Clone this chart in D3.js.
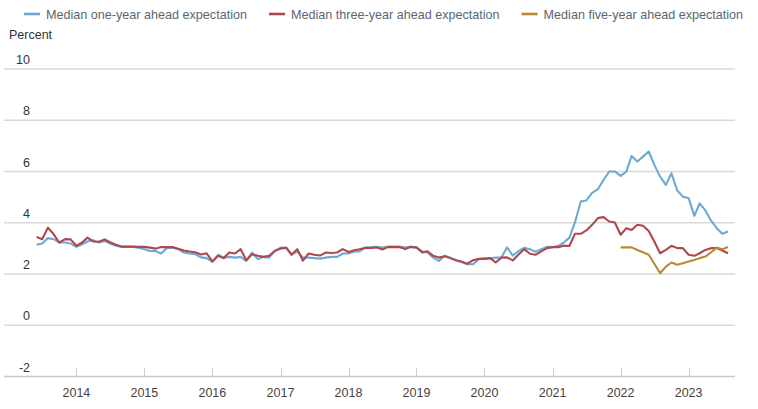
<!DOCTYPE html>
<html>
<head>
<meta charset="utf-8">
<script src="https://cdn.jsdelivr.net/npm/d3@7"></script>
<style>
  html, body { margin: 0; padding: 0; background: #fff; }
  svg { display: block; font-family: "Liberation Sans", Arial, Helvetica, sans-serif; }
</style>
</head>
<body>
<svg id="chart" width="758" height="409"></svg>
<script>
// ---- Data ----
const seriesNames = ["Median one-year ahead expectation", "Median three-year ahead expectation", "Median five-year ahead expectation"];
const seriesColors = ["#6aaad6", "#b0484b", "#b88a33"];
const startOneThree = "2013-06";   // first month of the one- and three-year series
const startFive = "2022-01";       // first month of the five-year series
const yTicks = [-2, 0, 2, 4, 6, 8, 10];
const xTickYears = [2014, 2015, 2016, 2017, 2018, 2019, 2020, 2021, 2022, 2023];

const oneYear = [
  3.12, 3.17, 3.38, 3.34, 3.21, 3.21, 3.17,
  3.04, 3.14, 3.25, 3.30, 3.21, 3.27, 3.17, 3.08, 3.04, 3.04, 3.04, 3.01,
  2.95, 2.88, 2.88, 2.78, 2.99, 3.01, 2.95, 2.82, 2.78, 2.75, 2.63, 2.60,
  2.45, 2.73, 2.62, 2.65, 2.62, 2.65, 2.49, 2.82, 2.56, 2.65, 2.62, 2.88,
  3.01, 2.99, 2.75, 2.86, 2.62, 2.62, 2.60, 2.58, 2.62, 2.65, 2.65, 2.78,
  2.78, 2.86, 2.86, 3.01, 3.01, 3.04, 3.01, 3.05, 3.05, 3.05, 3.01, 3.05,
  3.01, 2.86, 2.82, 2.62, 2.49, 2.69, 2.62, 2.52, 2.45, 2.36, 2.36, 2.56,
  2.59, 2.59, 2.62, 2.62, 3.02, 2.70, 2.87, 3.00, 2.95, 2.85, 2.95, 3.04,
  3.03, 3.08, 3.20, 3.40, 4.00, 4.81, 4.85, 5.15, 5.29, 5.65, 5.98, 5.98,
  5.81, 5.98, 6.59, 6.37, 6.56, 6.76, 6.24, 5.78, 5.46, 5.91, 5.24, 5.00,
  4.94, 4.25, 4.74, 4.46, 4.07, 3.77, 3.55, 3.64
];
const threeYear = [
  3.43, 3.34, 3.79, 3.53, 3.21, 3.34, 3.33,
  3.08, 3.21, 3.40, 3.25, 3.24, 3.33, 3.22, 3.12, 3.05, 3.05, 3.05, 3.04,
  3.04, 3.01, 2.97, 3.03, 3.03, 3.03, 2.97, 2.90, 2.86, 2.83, 2.74, 2.79,
  2.47, 2.69, 2.60, 2.82, 2.78, 2.95, 2.52, 2.75, 2.69, 2.65, 2.69, 2.88,
  2.97, 3.01, 2.73, 2.95, 2.50, 2.78, 2.73, 2.70, 2.82, 2.80, 2.82, 2.95,
  2.84, 2.91, 2.95, 3.00, 3.00, 3.02, 2.94, 3.03, 3.03, 3.03, 2.96, 3.03,
  3.02, 2.82, 2.87, 2.69, 2.62, 2.67, 2.60, 2.52, 2.46, 2.38, 2.52, 2.57,
  2.57, 2.60, 2.43, 2.62, 2.63, 2.51, 2.73, 2.95, 2.77, 2.73, 2.86, 2.99,
  3.03, 3.03, 3.08, 3.08, 3.55, 3.55, 3.68, 3.90, 4.16, 4.20, 4.03, 3.99,
  3.51, 3.77, 3.70, 3.90, 3.86, 3.66, 3.25, 2.79, 2.92, 3.08, 2.99, 2.99,
  2.73, 2.69, 2.79, 2.92, 2.99, 2.99, 2.90, 2.79
];
const fiveYear = [
  3.02, 3.02, 3.02, 2.92, 2.83, 2.73, 2.38, 2.01, 2.27, 2.43, 2.34, 2.40,
  2.47, 2.53, 2.60, 2.66, 2.82, 3.01, 2.95, 3.03
];

// ---- Helpers ----
const parseMonth = d3.timeParse("%Y-%m");
function toPoints(start, values) {
  const s = parseMonth(start);
  return values.map((v, i) => ({ date: d3.timeMonth.offset(s, i), value: v }));
}
const series = [
  toPoints(startOneThree, oneYear),
  toPoints(startOneThree, threeYear),
  toPoints(startFive, fiveYear)
];

// ---- Layout ----
const svg = d3.select("#chart");
const W = 758, H = 409;
const gridLeft = 4, gridRight = 735;

const x = d3.scaleTime()
  .domain([new Date(2014, 0, 1), new Date(2023, 0, 1)])
  .range([76.4, 688.6]);
const y = d3.scaleLinear().domain([-2, 10]).range([376, 68.5]);

// Gridlines
svg.append("g").selectAll("line").data(yTicks).join("line")
  .attr("x1", gridLeft).attr("x2", gridRight)
  .attr("y1", d => y(d) + 0.5).attr("y2", d => y(d) + 0.5)
  .attr("stroke", d => d === -2 ? "#c8c8c8" : "#d9d9d9")
  .attr("stroke-width", 1.3);

// Y labels
svg.append("g").selectAll("text").data(yTicks).join("text")
  .attr("x", 30).attr("y", d => y(d) - 4.5)
  .attr("text-anchor", "end")
  .attr("font-size", 12.5).attr("fill", "#333")
  .text(d => d);

svg.append("text").attr("x", 9).attr("y", 39)
  .attr("font-size", 12.5).attr("fill", "#333").text("Percent");

// X axis ticks & labels
const xDates = xTickYears.map(yr => new Date(yr, 0, 1));
svg.append("g").selectAll("line").data(xDates).join("line")
  .attr("x1", d => Math.round(x(d)) + 0.5).attr("x2", d => Math.round(x(d)) + 0.5)
  .attr("y1", y(-2) - 8).attr("y2", y(-2))
  .attr("stroke", "#cfcfcf").attr("stroke-width", 1);
svg.append("g").selectAll("text").data(xDates).join("text")
  .attr("x", d => x(d)).attr("y", 397)
  .attr("text-anchor", "middle")
  .attr("font-size", 12.5).attr("fill", "#444")
  .text(d => d3.timeFormat("%Y")(d));

// Lines
const line = d3.line().x(d => x(d.date)).y(d => y(d.value));
svg.append("g").selectAll("path").data(series).join("path")
  .attr("d", line)
  .attr("fill", "none")
  .attr("stroke", (d, i) => seriesColors[i])
  .attr("stroke-width", 2.1)
  .attr("stroke-linejoin", "round");

// Legend
const legend = svg.append("g");
let lx = 24;
seriesNames.forEach((name, i) => {
  legend.append("line")
    .attr("x1", lx).attr("x2", lx + 16).attr("y1", 14).attr("y2", 14)
    .attr("stroke", seriesColors[i]).attr("stroke-width", 2.6);
  const t = legend.append("text")
    .attr("x", lx + 22).attr("y", 18.5)
    .attr("font-size", 12.6).attr("fill", "#5a6673")
    .text(name);
  lx = lx + 22 + t.node().getComputedTextLength() + 22;
});
</script>
</body>
</html>
